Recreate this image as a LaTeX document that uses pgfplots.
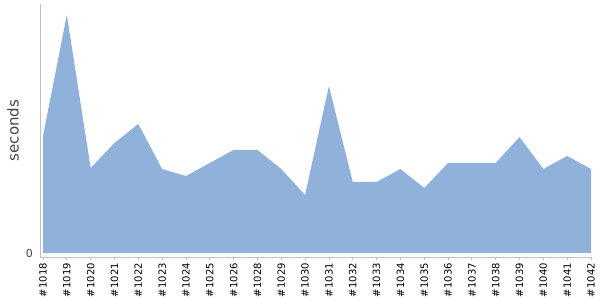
\documentclass[border=0pt]{standalone}
\usepackage{pgfplots}
\pgfplotsset{compat=1.18}
\usepackage{fontspec}
\setmainfont{DejaVu Sans}
\definecolor{areafill}{RGB}{143,177,218}
\definecolor{axisgray}{RGB}{192,192,192}
\definecolor{labelgray}{RGB}{70,70,70}
\begin{document}
\begin{tikzpicture}[x=1pt,y=1pt]
\path[use as bounding box] (0,0) rectangle (600,300);
\begin{axis}[
  at={(40pt,43pt)}, anchor=south west,
  scale only axis, width=552pt, height=253pt,
  xmin=-0.126, xmax=23.042,
  ymin=-4, ymax=249,
  axis x line=bottom, axis y line=left,
  axis line style={draw=axisgray, line width=0.8pt, -},
  xtick={0,...,23},
  xticklabels={\#1018,\#1019,\#1020,\#1021,\#1022,\#1023,\#1024,\#1025,\#1026,\#1028,\#1029,\#1030,\#1031,\#1032,\#1033,\#1034,\#1035,\#1036,\#1037,\#1038,\#1039,\#1040,\#1041,\#1042},
  xticklabel style={rotate=90, anchor=east, font=\fontsize{10}{11}\selectfont, text=black, inner sep=1pt, xshift=-2pt},
  x tick style={draw=axisgray, line width=0.8pt},
  tick align=outside, major tick length=3pt,
  ytick={0}, yticklabels={0},
  y tick style={draw=none},
  yticklabel style={font=\fontsize{11}{12}\selectfont, text=labelgray, inner sep=1pt, xshift=-3pt},
  ylabel={seconds},
  every axis y label/.style={at={(axis description cs:-0.049,0.5)}, rotate=90, anchor=center,
    font=\fontsize{15}{16}\selectfont, text=labelgray},
  clip=false,
]
\addplot[fill=areafill, draw=none] coordinates {
(0,117) (1,238) (2,85) (3,110) (4,129) (5,84) (6,77) (7,90) (8,103) (9,103)
(10,84) (11,58) (12,167) (13,71) (14,71) (15,84) (16,65) (17,90) (18,90) (19,90)
(20,116) (21,84) (22,97) (23,84)
} \closedcycle;
\end{axis}
\end{tikzpicture}
\end{document}
